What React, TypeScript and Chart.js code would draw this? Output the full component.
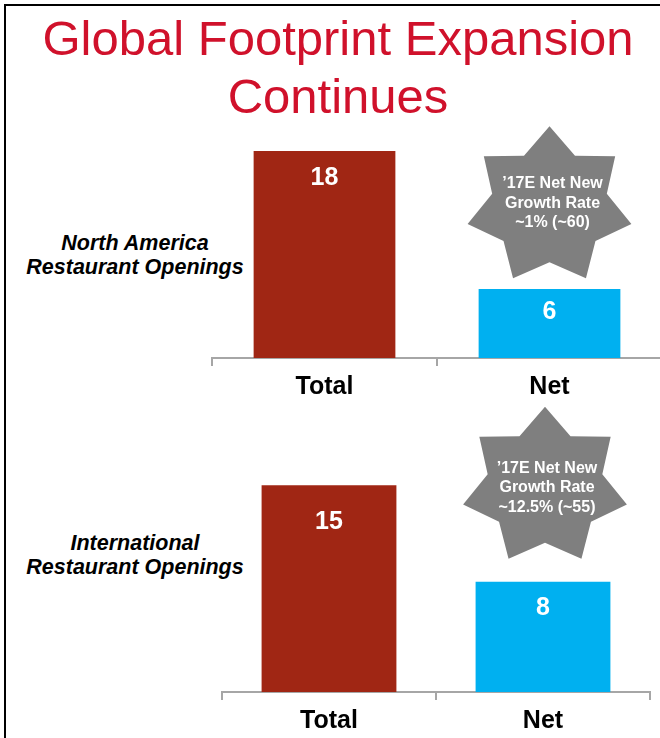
import React, { useEffect, useRef } from "react";
import { Chart, registerables } from "chart.js";
Chart.register(...registerables);

const titleLines = ["Global Footprint Expansion", "Continues"];
const categories = ["Total", "Net"];
const northAmericaValues = [18, 6];
const internationalValues = [15, 8];
const northAmericaLabel = ["North America", "Restaurant Openings"];
const internationalLabel = ["International", "Restaurant Openings"];
const northAmericaStarLines = ["\u201917E Net New", "Growth Rate", "~1% (~60)"];
const internationalStarLines = ["\u201917E Net New", "Growth Rate", "~12.5% (~55)"];
const barColors = ["#A02614", "#00B0F0"];

const FONT = "Arial, 'Liberation Sans', Helvetica, sans-serif";

const overlayPlugin = {
  id: "overlay",
  afterDatasetsDraw(chart: any, _args: any, opts: any) {
    const ctx = chart.ctx;
    const meta = chart.getDatasetMeta(0);
    ctx.save();
    ctx.textAlign = "center";
    ctx.textBaseline = "middle";
    ctx.fillStyle = "#ffffff";
    ctx.font = `bold 25px ${FONT}`;
    meta.data.forEach((bar: any, i: number) => {
      ctx.fillText(String(chart.data.datasets[0].data[i]), bar.x, bar.y + opts.labelOffsets[i]);
    });
    const xs = chart.scales.x;
    const ys = chart.scales.y;
    const cx = xs.getPixelForValue(opts.starIndex) + opts.starDx;
    const cy = ys.getPixelForValue(opts.starValue);
    const n = 7;
    ctx.beginPath();
    for (let k = 0; k < 2 * n; k++) {
      const ang = -Math.PI / 2 + (k * Math.PI) / n;
      const r = k % 2 === 0 ? 1 : opts.inner;
      const x = cx + Math.cos(ang) * opts.rx * r;
      const y = cy + Math.sin(ang) * opts.ry * r;
      if (k === 0) ctx.moveTo(x, y);
      else ctx.lineTo(x, y);
    }
    ctx.closePath();
    ctx.fillStyle = "#7F7F7F";
    ctx.fill();
    ctx.fillStyle = "#ffffff";
    ctx.font = `bold 16px ${FONT}`;
    const lines: string[] = opts.lines;
    lines.forEach((t, i) => {
      ctx.fillText(t, cx + opts.textDx, cy + opts.textDy + (i - (lines.length - 1) / 2) * 19.5);
    });
    ctx.restore();
  },
};

function BarPanel(props: any) {
  const ref = useRef<HTMLCanvasElement | null>(null);
  const { values, left, top, width, height, padTop, yMax, overlay } = props;
  useEffect(() => {
    if (!ref.current) return;
    const chart = new Chart(ref.current, {
      type: "bar",
      data: {
        labels: categories,
        datasets: [
          {
            data: values,
            backgroundColor: barColors,
            borderWidth: 0,
            barPercentage: 0.63,
            categoryPercentage: 1,
          },
        ],
      },
      options: {
        responsive: false,
        animation: false,
        devicePixelRatio: 1,
        layout: { padding: { top: padTop, left: 2, right: 2, bottom: 0 } },
        plugins: {
          legend: { display: false },
          tooltip: { enabled: false },
          overlay,
        } as any,
        scales: {
          x: {
            grid: {
              display: true,
              drawOnChartArea: false,
              drawTicks: true,
              tickLength: 8,
              color: "#A6A6A6",
              lineWidth: 2,
              offset: true,
            },
            border: { display: true, color: "#A6A6A6", width: 2 },
            ticks: {
              color: "#000000",
              font: { family: FONT, size: 25, weight: "bold", lineHeight: 1 },
              padding: 8.5,
            },
          },
          y: { display: false, min: 0, max: yMax },
        },
      } as any,
      plugins: [overlayPlugin as any],
    });
    return () => chart.destroy();
  }, []);
  return (
    <canvas
      ref={ref}
      width={width}
      height={height}
      style={{ position: "absolute", left, top, width, height }}
    />
  );
}

function SideLabel({ lines, top }: { lines: string[]; top: number }) {
  return (
    <div
      style={{
        position: "absolute",
        left: 0,
        top,
        width: 270,
        textAlign: "center",
        fontFamily: FONT,
        fontWeight: "bold",
        fontStyle: "italic",
        fontSize: 21.5,
        lineHeight: "24px",
        color: "#000",
      }}
    >
      {lines.map((l, i) => (
        <div key={i}>{l}</div>
      ))}
    </div>
  );
}

export default function App() {
  return (
    <div
      style={{
        position: "fixed",
        left: 0,
        top: 0,
        width: 660,
        height: 738,
        overflow: "hidden",
        background: "#ffffff",
      }}
    >
      <div style={{ position: "absolute", left: 4, top: 4, width: 660, height: 2, background: "#000" }} />
      <div style={{ position: "absolute", left: 4, top: 4, width: 2, height: 740, background: "#000" }} />
      <div
        style={{
          position: "absolute",
          left: 0,
          top: 9,
          width: 676,
          textAlign: "center",
          fontFamily: FONT,
          fontSize: 49,
          lineHeight: "58px",
          color: "#D0112B",
        }}
      >
        {titleLines.map((l, i) => (
          <div key={i}>{l}</div>
        ))}
      </div>
      <SideLabel lines={northAmericaLabel} top={231} />
      <SideLabel lines={internationalLabel} top={531} />
      <BarPanel
        values={northAmericaValues}
        left={210}
        top={118}
        width={454}
        height={290}
        padTop={10}
        yMax={20}
        overlay={{
          labelOffsets: [27, 23],
          starIndex: 1,
          starDx: 0,
          starValue: 13.2,
          rx: 84,
          ry: 80,
          inner: 0.7,
          textDx: 3,
          textDy: -3,
          lines: northAmericaStarLines,
        }}
      />
      <BarPanel
        values={internationalValues}
        left={220}
        top={400}
        width={432}
        height={342}
        padTop={44}
        yMax={18}
        overlay={{
          labelOffsets: [37, 26],
          starIndex: 1,
          starDx: 2,
          starValue: 14.9,
          rx: 84,
          ry: 80,
          inner: 0.7,
          textDx: 2,
          textDy: 1,
          lines: internationalStarLines,
        }}
      />
    </div>
  );
}
